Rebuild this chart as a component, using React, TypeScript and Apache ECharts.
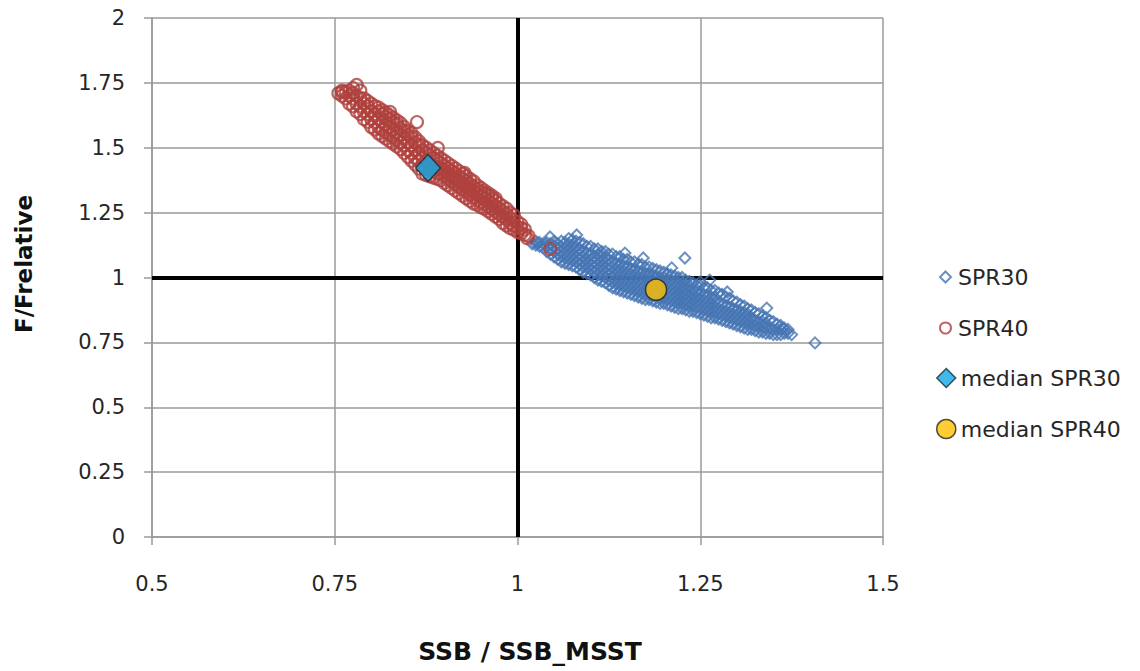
import React, { useEffect, useRef } from "react";
import * as echarts from "echarts";

// x = SSB / SSB_MSST, y = F/Frelative
// Each column: [x, y1, y2, ...]
const SPR40_COLUMNS: number[][] = [
  [0.755, 1.71],
  [0.76, 1.70, 1.72],
  [0.765, 1.69, 1.715],
  [0.77, 1.67, 1.70, 1.72],
  [0.775, 1.66, 1.69, 1.71, 1.73],
  [0.78, 1.64, 1.67, 1.70],
  [0.785, 1.63, 1.66, 1.69, 1.72],
  [0.79, 1.61, 1.64, 1.67, 1.69],
  [0.795, 1.60, 1.63, 1.66, 1.68],
  [0.80, 1.58, 1.61, 1.64, 1.67],
  [0.805, 1.57, 1.60, 1.63, 1.66],
  [0.81, 1.555, 1.58, 1.61, 1.64, 1.655],
  [0.815, 1.545, 1.57, 1.60, 1.63, 1.645],
  [0.82, 1.535, 1.56, 1.59, 1.62, 1.635],
  [0.825, 1.525, 1.55, 1.58, 1.61, 1.625],
  [0.83, 1.515, 1.54, 1.57, 1.60, 1.615],
  [0.835, 1.505, 1.53, 1.56, 1.59, 1.605],
  [0.84, 1.495, 1.52, 1.55, 1.575, 1.595],
  [0.845, 1.48, 1.51, 1.54, 1.565, 1.58],
  [0.85, 1.465, 1.49, 1.52, 1.55, 1.565],
  [0.855, 1.45, 1.48, 1.51, 1.54, 1.555],
  [0.86, 1.435, 1.46, 1.49, 1.52, 1.54],
  [0.865, 1.42, 1.45, 1.48, 1.51, 1.525],
  [0.87, 1.40, 1.43, 1.46, 1.49, 1.51],
  [0.875, 1.395, 1.42, 1.45, 1.48, 1.50],
  [0.88, 1.39, 1.415, 1.44, 1.47, 1.49],
  [0.885, 1.385, 1.41, 1.43, 1.46, 1.48],
  [0.89, 1.38, 1.40, 1.42, 1.45, 1.47],
  [0.895, 1.375, 1.40, 1.42, 1.44, 1.46],
  [0.90, 1.365, 1.39, 1.41, 1.43, 1.45],
  [0.905, 1.355, 1.38, 1.40, 1.42, 1.44],
  [0.91, 1.345, 1.37, 1.39, 1.41, 1.43],
  [0.915, 1.335, 1.36, 1.38, 1.40, 1.42],
  [0.92, 1.325, 1.35, 1.37, 1.39, 1.41],
  [0.925, 1.315, 1.34, 1.36, 1.38, 1.40],
  [0.93, 1.305, 1.33, 1.35, 1.37, 1.39],
  [0.935, 1.295, 1.32, 1.34, 1.36, 1.38],
  [0.94, 1.285, 1.31, 1.33, 1.35, 1.37],
  [0.945, 1.28, 1.30, 1.32, 1.34, 1.355],
  [0.95, 1.27, 1.29, 1.31, 1.33, 1.345],
  [0.955, 1.265, 1.285, 1.305, 1.325, 1.335],
  [0.96, 1.255, 1.275, 1.295, 1.315, 1.325],
  [0.965, 1.245, 1.265, 1.285, 1.305, 1.315],
  [0.97, 1.235, 1.255, 1.275, 1.295, 1.305],
  [0.975, 1.225, 1.245, 1.265, 1.285],
  [0.98, 1.21, 1.235, 1.255, 1.275],
  [0.985, 1.20, 1.225, 1.245, 1.265],
  [0.99, 1.19, 1.21, 1.23, 1.25],
  [0.995, 1.185, 1.20, 1.22, 1.24],
  [1.00, 1.175, 1.195, 1.215],
  [1.005, 1.17, 1.19, 1.205],
  [1.01, 1.165, 1.185],
  [1.015, 1.16],
];
const SPR40_OUTLIERS: number[][] = [
  [0.76, 1.715], [0.78, 1.742], [0.8256, 1.638], [0.8625, 1.599],
  [0.891, 1.499], [0.9275, 1.403], [1.013, 1.152], [1.045, 1.11],
];

const SPR30_COLUMNS: number[][] = [
  [1.02, 1.13],
  [1.025, 1.125, 1.14],
  [1.03, 1.12, 1.135],
  [1.035, 1.115, 1.13],
  [1.04, 1.10, 1.12, 1.135],
  [1.045, 1.09, 1.11, 1.13],
  [1.05, 1.08, 1.10, 1.12, 1.14],
  [1.055, 1.07, 1.09, 1.11, 1.13],
  [1.06, 1.06, 1.08, 1.10, 1.12, 1.14],
  [1.065, 1.055, 1.075, 1.095, 1.115, 1.135],
  [1.07, 1.05, 1.07, 1.09, 1.11, 1.13, 1.15],
  [1.075, 1.045, 1.065, 1.085, 1.105, 1.125, 1.145],
  [1.08, 1.04, 1.06, 1.08, 1.10, 1.12, 1.14],
  [1.085, 1.03, 1.05, 1.07, 1.09, 1.11, 1.135],
  [1.09, 1.02, 1.04, 1.06, 1.08, 1.10, 1.13],
  [1.095, 1.015, 1.035, 1.055, 1.075, 1.095, 1.12],
  [1.10, 1.01, 1.03, 1.05, 1.07, 1.09, 1.12],
  [1.105, 1.00, 1.02, 1.04, 1.06, 1.08, 1.11],
  [1.11, 0.99, 1.01, 1.03, 1.05, 1.07, 1.09, 1.11],
  [1.115, 0.985, 1.005, 1.025, 1.045, 1.065, 1.085, 1.10],
  [1.12, 0.98, 1.00, 1.02, 1.04, 1.06, 1.08, 1.10],
  [1.125, 0.97, 0.99, 1.01, 1.03, 1.05, 1.07, 1.09],
  [1.13, 0.96, 0.98, 1.00, 1.02, 1.04, 1.06, 1.09],
  [1.135, 0.955, 0.975, 0.995, 1.015, 1.035, 1.055, 1.08],
  [1.14, 0.95, 0.97, 0.99, 1.01, 1.03, 1.05, 1.08],
  [1.145, 0.945, 0.965, 0.985, 1.005, 1.025, 1.045, 1.07],
  [1.15, 0.94, 0.96, 0.98, 1.00, 1.02, 1.04, 1.07],
  [1.155, 0.935, 0.955, 0.975, 0.995, 1.015, 1.035, 1.06],
  [1.16, 0.93, 0.95, 0.97, 0.99, 1.01, 1.03, 1.06],
  [1.165, 0.925, 0.945, 0.965, 0.985, 1.005, 1.025, 1.05],
  [1.17, 0.92, 0.94, 0.96, 0.98, 1.00, 1.02, 1.05],
  [1.175, 0.915, 0.935, 0.955, 0.975, 0.995, 1.015, 1.04],
  [1.18, 0.915, 0.935, 0.955, 0.975, 0.995, 1.015, 1.04],
  [1.185, 0.91, 0.93, 0.95, 0.97, 0.99, 1.01, 1.035],
  [1.19, 0.905, 0.925, 0.945, 0.965, 0.985, 1.005, 1.03],
  [1.195, 0.90, 0.92, 0.94, 0.96, 0.98, 1.00, 1.025],
  [1.20, 0.90, 0.92, 0.94, 0.96, 0.98, 1.00, 1.02],
  [1.205, 0.895, 0.915, 0.935, 0.955, 0.975, 0.995, 1.015],
  [1.21, 0.89, 0.91, 0.93, 0.95, 0.97, 0.99, 1.01],
  [1.215, 0.885, 0.905, 0.925, 0.945, 0.965, 0.985, 1.005],
  [1.22, 0.88, 0.90, 0.92, 0.94, 0.96, 0.98, 1.00],
  [1.225, 0.88, 0.90, 0.92, 0.94, 0.96, 0.98, 1.00],
  [1.23, 0.875, 0.895, 0.915, 0.935, 0.955, 0.975, 0.99],
  [1.235, 0.87, 0.89, 0.91, 0.93, 0.95, 0.97, 0.985],
  [1.24, 0.87, 0.89, 0.91, 0.93, 0.95, 0.98],
  [1.245, 0.865, 0.885, 0.905, 0.925, 0.945, 0.97],
  [1.25, 0.86, 0.88, 0.90, 0.92, 0.94, 0.97],
  [1.255, 0.855, 0.875, 0.895, 0.915, 0.935, 0.96],
  [1.26, 0.85, 0.87, 0.89, 0.91, 0.93, 0.96],
  [1.265, 0.845, 0.865, 0.885, 0.905, 0.925, 0.95],
  [1.27, 0.845, 0.865, 0.885, 0.905, 0.925, 0.95],
  [1.275, 0.84, 0.86, 0.88, 0.90, 0.94],
  [1.28, 0.835, 0.855, 0.875, 0.895, 0.935],
  [1.285, 0.83, 0.85, 0.87, 0.89, 0.925],
  [1.29, 0.825, 0.845, 0.865, 0.885, 0.92],
  [1.295, 0.82, 0.84, 0.86, 0.88, 0.91],
  [1.30, 0.815, 0.835, 0.855, 0.875, 0.905],
  [1.305, 0.81, 0.83, 0.85, 0.87, 0.895],
  [1.31, 0.805, 0.825, 0.845, 0.865, 0.89],
  [1.315, 0.80, 0.82, 0.84, 0.86, 0.88],
  [1.32, 0.80, 0.82, 0.84, 0.875],
  [1.325, 0.795, 0.815, 0.835, 0.865],
  [1.33, 0.79, 0.81, 0.83, 0.86],
  [1.335, 0.79, 0.81, 0.83, 0.85],
  [1.34, 0.785, 0.805, 0.825, 0.845],
  [1.345, 0.785, 0.805, 0.835],
  [1.35, 0.78, 0.80, 0.83],
  [1.355, 0.78, 0.80, 0.82],
  [1.36, 0.78, 0.80, 0.815],
  [1.365, 0.785, 0.805],
  [1.37, 0.785, 0.80],
  [1.375, 0.78],
];
const SPR30_OUTLIERS: number[][] = [
  [1.407, 0.748], [1.0445, 1.156], [1.081, 1.164], [1.027, 1.133],
  [1.147, 1.094], [1.172, 1.075], [1.229, 1.075], [1.211, 1.037],
  [1.263, 0.99], [1.287, 0.944], [1.341, 0.882], [1.363, 0.805],
  [1.25, 0.983],
];

const MEDIAN_SPR30: number[][] = [[0.8776, 1.422]];
const MEDIAN_SPR40: number[][] = [[1.1895, 0.953]];

const X_TICKS = { min: 0.5, max: 1.5, interval: 0.25 };
const Y_TICKS = { min: 0, max: 2, interval: 0.25 };
const REF_X = 1;
const REF_Y = 1;

const expand = (cols: number[][]): number[][] =>
  cols.flatMap((c) => c.slice(1).map((y) => [c[0], y]));

export default function App() {
  const ref = useRef<HTMLDivElement>(null);
  useEffect(() => {
    if (!ref.current) return;
    const chart = echarts.init(ref.current, undefined, { renderer: "svg" });
    const font = "DejaVu Sans";
    const gridColor = "#9a9a9a";
    const textColor = "#262626";
    chart.setOption({
      animation: false,
      backgroundColor: "#ffffff",
      grid: { left: 152, right: 257, top: 18, bottom: 134, containLabel: false },
      xAxis: {
        type: "value",
        ...X_TICKS,
        axisLine: { show: true, onZero: false, lineStyle: { color: gridColor, width: 1.5 } },
        axisTick: { show: true, length: 8, lineStyle: { color: gridColor, width: 1.5 } },
        splitLine: { show: true, lineStyle: { color: gridColor, width: 1.5 } },
        axisLabel: { margin: 36, color: textColor, fontFamily: font, fontSize: 21 },
      },
      yAxis: {
        type: "value",
        ...Y_TICKS,
        axisLine: { show: true, onZero: false, lineStyle: { color: gridColor, width: 1.5 } },
        axisTick: { show: true, length: 8, lineStyle: { color: gridColor, width: 1.5 } },
        splitLine: { show: true, lineStyle: { color: gridColor, width: 1.5 } },
        axisLabel: { margin: 27, color: textColor, fontFamily: font, fontSize: 21 },
      },
      legend: [
        {
          orient: "vertical",
          left: 934,
          top: 260,
          itemWidth: 11,
          itemHeight: 11,
          itemGap: 27,
          data: ["SPR30", "SPR40"],
          textStyle: { color: textColor, fontFamily: font, fontSize: 22, lineHeight: 24, padding: [0, 0, 0, 2] },
        },
        {
          orient: "vertical",
          left: 931,
          top: 361,
          itemWidth: 19,
          itemHeight: 19,
          itemGap: 27,
          itemStyle: { borderWidth: 1.5 },
          data: ["median SPR30", "median SPR40"],
          textStyle: { color: textColor, fontFamily: font, fontSize: 22, lineHeight: 24, padding: [0, 0, 0, 0] },
        },
      ],
      graphic: [
        {
          type: "text",
          x: 24,
          y: 264,
          rotation: Math.PI / 2,
          style: {
            text: "F/Frelative",
            fontFamily: font,
            fontWeight: "bold",
            fontSize: 23,
            fill: "#111",
            textAlign: "center",
            textVerticalAlign: "middle",
          },
        },
        {
          type: "text",
          x: 530,
          y: 651,
          style: {
            text: "SSB / SSB_MSST",
            fontFamily: font,
            fontWeight: "bold",
            fontSize: 25,
            fill: "#111",
            textAlign: "center",
            textVerticalAlign: "middle",
          },
        },
      ],
      series: [
        {
          name: "SPR30",
          type: "scatter",
          symbol: "diamond",
          symbolSize: 11,
          data: [...expand(SPR30_COLUMNS), ...SPR30_OUTLIERS],
          itemStyle: { color: "rgba(255,255,255,0)", borderColor: "#4676B4", borderWidth: 2 },
          markLine: {
            silent: true,
            symbol: ["none", "none"],
            label: { show: false },
            lineStyle: { color: "#000", width: 4, type: "solid" },
            data: [{ xAxis: REF_X }, { yAxis: REF_Y }],
            z: 1,
          },
          z: 3,
        },
        {
          name: "SPR40",
          type: "scatter",
          symbol: "circle",
          symbolSize: 12,
          data: [...expand(SPR40_COLUMNS), ...SPR40_OUTLIERS],
          itemStyle: { color: "rgba(255,255,255,0)", borderColor: "#AF413D", borderWidth: 2.2 },
          z: 3,
        },
        {
          name: "median SPR30",
          type: "scatter",
          symbol: "diamond",
          symbolSize: [25, 27],
          data: MEDIAN_SPR30,
          itemStyle: { color: "#12A9E3", borderColor: "#1a2a3a", borderWidth: 1.5 },
          z: 4,
        },
        {
          name: "median SPR40",
          type: "scatter",
          symbol: "circle",
          symbolSize: 21,
          data: MEDIAN_SPR40,
          itemStyle: { color: "#FFC000", borderColor: "#222", borderWidth: 1.5 },
          z: 4,
        },
      ],
    });
    return () => chart.dispose();
  }, []);
  return (
    <div
      ref={ref}
      style={{ position: "absolute", left: 0, top: 0, width: 1140, height: 671 }}
    />
  );
}
